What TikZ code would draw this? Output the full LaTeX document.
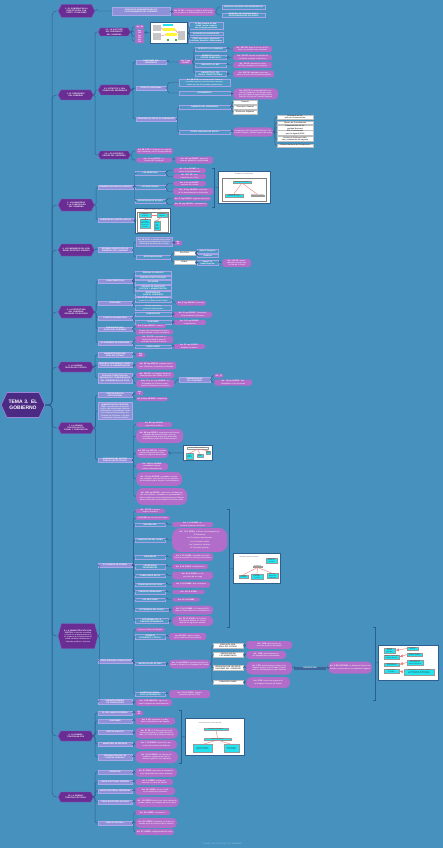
\documentclass[tikz,border=0pt]{standalone}
\usepackage{fontspec}
\setmainfont{Liberation Sans}
\usetikzlibrary{shapes.symbols,shapes.misc,calc}
\definecolor{bg}{HTML}{4691BE}
\definecolor{cenc}{HTML}{4B2A83}
\definecolor{cenb}{HTML}{9C86D8}
\definecolor{lonec}{HTML}{6A2D93}
\definecolor{loneb}{HTML}{8A5CC0}
\definecolor{lav}{HTML}{8E90D8}
\definecolor{lavb}{HTML}{A9A9EA}
\definecolor{outf}{HTML}{4F98C6}
\definecolor{outb}{HTML}{A7A3E6}
\definecolor{pk}{HTML}{B26CC9}
\definecolor{linec}{HTML}{2D5F8E}
\definecolor{imb}{HTML}{2F5F8F}
\definecolor{cy}{HTML}{22E4F0}
\definecolor{rd}{HTML}{F07C7C}
\definecolor{ftc}{HTML}{7FB6D8}
\newcommand\tn{\fontsize{1.9}{2.2}\selectfont}
\newcommand\tb{\bfseries\fontsize{1.9}{2.2}\selectfont}
\newcommand\tmi{\fontsize{1.35}{1.6}\selectfont}
\newcommand\cnx[2]{\draw[cn] (#1.east) -- ++(1.5,0) |- (#2.west);}
\tikzset{
 base/.style={inner xsep=1pt, inner ysep=0.5pt, align=center, text=white, font=\tn, anchor=west},
 cen/.style={base, anchor=center, shape=signal, signal to=west and east, signal pointer angle=130, fill=cenc, draw=cenb, line width=0.6pt, font=\bfseries\fontsize{5}{6}\selectfont, text width=30pt, minimum height=25pt, inner xsep=1pt},
 lone/.style={base, shape=signal, signal to=west and east, signal pointer angle=125, fill=lonec, draw=loneb, line width=0.3pt, font=\tb, text width=28pt, minimum height=10pt},
 ltwop/.style={base, shape=signal, signal to=west and east, signal pointer angle=125, fill=lonec, draw=loneb, line width=0.3pt, font=\tb, text width=26pt, minimum height=8pt},
 ltwo/.style={base, rectangle, fill=lav, draw=lavb, line width=0.25pt, font=\tb, minimum height=4pt, text width=32pt},
 outn/.style={base, rectangle, fill=outf, draw=outb, line width=0.3pt, font=\tb, minimum height=3.4pt},
 pkn/.style={base, rectangle, rounded corners=1.8pt, fill=pk, minimum height=4pt},
 tagn/.style={pkn, font=\tb, rounded corners=1.2pt},
 whn/.style={base, rectangle, fill=white, draw=black!25, line width=0.2pt, text=black!75, font=\tb, minimum height=3.4pt},
 imgb/.style={base, anchor=north west, rectangle, fill=white, draw=imb, line width=0.9pt, inner sep=0pt},
 cyb/.style={base, anchor=center, rectangle, fill=cy, draw=black!40, line width=0.15pt, text=black!80, font=\tmi, inner sep=0.4pt},
 ttl/.style={base, anchor=center, text=black!70, font=\tmi, inner sep=0.3pt},
 cn/.style={draw=linec, line width=0.45pt, rounded corners=1.5pt},
 rl/.style={draw=rd, line width=0.4pt},
}
\begin{document}
\begin{tikzpicture}[x=1pt,y=-1pt]
\fill[bg] (0,0) rectangle (443,848);
\useasboundingbox (0,0) rectangle (443,848);

% ---------- central and level one
\node[cen] (cen) at (23,405) {TEMA 3. EL GOBIERNO};
\node[lone, minimum height=13pt] (A1) at (58,11) {1. EL GOBIERNO EN LA CONSTITUCIÓN: CONCEPTO Y FUNCIONES};
\node[lone] (A2) at (58,95) {2. EL PRESIDENTE DEL GOBIERNO};
\node[lone, minimum height=12pt] (A3) at (58,205) {3. LOS MINISTROS Y LA COMPOSICIÓN DEL GOBIERNO};
\node[lone, minimum height=12pt] (A4) at (58,250) {4. LOS MIEMBROS DEL GOBIERNO: ESTATUTO JURÍDICO};
\node[lone, minimum height=12pt] (A5) at (58,312) {5. LA ESTRUCTURA DEL GOBIERNO: ÓRGANOS COLEGIADOS};
\node[lone] (A6) at (58,367) {6. LA ADMINISTRACIÓN DEL ESTADO};
\node[lone, minimum height=11pt] (A7) at (58,428) {7. LA ADMINISTRACIÓN INSTITUCIONAL Y CORPORATIVA};
\node[lone, signal pointer angle=150, text width=31pt, minimum height=25pt] (A8) at (58,636) {8. LA ADMINISTRACIÓN CONSULTIVA: \mdseries la función consultiva consiste en el asesoramiento a los órganos de la Administración activa mediante dictámenes o informes jurídicos o técnicos};
\node[lone] (A9) at (58,736) {9. LA ADMINISTRACIÓN MILITAR};
\node[lone] (A10) at (58,797) {10. LA ADMINISTRACIÓN ELECTORAL};
\foreach \n in {A1,A2,A3,A4,A5,A6,A7,A8,A9,A10}
  \draw[cn, rounded corners=4pt] (cen.east) -- ++(7,0) |- (\n.west);

% ---------- section 1
\node[ltwo, text width=56pt, minimum height=8pt] (B1) at (112,11) {PRINCIPIOS FUNDAMENTALES DE FUNCIONAMIENTO DEL GOBIERNO};
\node[pkn, text width=41pt, rounded corners=3pt, minimum height=8pt] (B1p) at (172,12) {\textbf{Art. 97 CE:} el Gobierno dirige la política interior y exterior, la Administración civil y militar};
\node[outn, text width=41pt] (B1a) at (222,7) {PRINCIPIO DE DIRECCIÓN PRESIDENCIAL};
\node[outn, text width=41pt] (B1b) at (222,15) {PRINCIPIO DE COLEGIALIDAD Y RESPONSABILIDAD SOLIDARIA};
\cnx{A1}{B1} \cnx{B1}{B1p} \cnx{B1p}{B1a} \cnx{B1p}{B1b}

% ---------- section 2
\node[ltwop] (C1) at (98,32) {2.1. LA ELECCIÓN DEL PRESIDENTE DEL GOBIERNO};
\node[ltwop, minimum height=10pt] (C2) at (98,90) {2.2. ESTATUTO Y FUNCIONES DEL PRESIDENTE};
\node[ltwop] (C3) at (98,155) {2.3. LOS VICEPRESIDENTES DEL GOBIERNO};
\cnx{A2}{C1} \cnx{A2}{C2} \cnx{A2}{C3}
\node[tagn, text width=7pt] (T1) at (135,27) {Art. 99};
\node[tagn, text width=7pt] (T2) at (135,32) {Art. 101};
\node[tagn, text width=7pt] (T3) at (135,36.5) {Art. 113};
\node[tagn, text width=7pt] (T4) at (135,41) {Art. 114};
\foreach \n in {T1,T2,T3,T4} \cnx{C1}{\n};
\node[imgb, minimum width=37pt, minimum height=21pt] (img1) at (150,22) {};
\fill[gray!45] (153,25) rectangle (161,31);
\fill[gray!45] (153,33) rectangle (161,40);
\fill[cy] (163,24.5) rectangle (173,26.5);
\fill[yellow!80] (163,28) rectangle (175,31);
\fill[yellow!80] (166,33) rectangle (177,36);
\fill[gray!45] (178,31) rectangle (185,40);
\draw[rl] (161,28) -- (163,29.5) (175,29.5) -- (178,33) (166,34.5) -- (161,36);
\fill[green!60!black] (168,40) circle (1.1pt) (176,40) circle (1.1pt);
\cnx{T2}{img1}
\node[outn, text width=32pt] (O1) at (189,26) {El Rey propone un candidato, previa consulta con los grupos políticos};
\node[outn, text width=32pt] (O2) at (189,33.5) {VOTACIÓN DE INVESTIDURA};
\node[outn, text width=32pt] (O3) at (189,40) {CESE: elecciones, pérdida de confianza, dimisión o fallecimiento};
\cnx{img1}{O1} \cnx{img1}{O2} \cnx{img1}{O3}

\node[ltwo, text width=28pt] (D1) at (136,62) {FUNCIONES DEL PRESIDENTE};
\node[ltwo, text width=28pt] (D2) at (136,88) {ESTATUTO PERSONAL};
\node[ltwo, text width=38pt] (D3) at (136,119) {ÓRGANOS DE APOYO AL PRESIDENTE};
\cnx{C2}{D1} \cnx{C2}{D2} \cnx{C2}{D3}
\node[tagn, text width=11pt] (T5) at (179,62) {Art. 2 Ley 50/1997};
\cnx{D1}{T5}
\node[outn, text width=29pt] (O4) at (195,49) {RESPECTO AL GOBIERNO};
\node[outn, text width=29pt] (O5) at (195,57) {RESPECTO A LAS CORTES GENERALES};
\node[outn, text width=29pt] (O6) at (195,65) {RESPECTO AL REY};
\node[outn, text width=29pt] (O7) at (195,73.5) {RESPECTO AL TRIBUNAL CONSTITUCIONAL};
\foreach \n in {O4,O5,O6,O7} \cnx{T5}{\n};
\node[pkn, text width=37pt, minimum height=6pt] (P1) at (233,49) {\textbf{Art. 98.2 CE:} dirige la acción del Gobierno y coordina a sus miembros};
\node[pkn, text width=37pt, minimum height=6pt] (P2) at (233,57.5) {\textbf{Art. 112 CE:} plantea la cuestión de confianza; propone la disolución};
\node[pkn, text width=37pt, minimum height=6pt] (P3) at (233,65) {\textbf{Art. 64 CE:} refrenda los actos del Rey y propone a los ministros};
\node[pkn, text width=39pt, minimum height=7pt] (P4) at (233,74) {\textbf{Art. 162 CE:} legitimado para interponer el recurso de inconstitucionalidad};
\cnx{O4}{P1} \cnx{O5}{P2} \cnx{O6}{P3} \cnx{O7}{P4}
\node[outn, text width=49pt, font=\tn] (O8) at (179,82.5) {\textbf{Art. 98.3 CE:} los miembros del Gobierno no podrán ejercer otras funciones representativas que las del mandato parlamentario};
\node[outn, text width=49pt] (O9) at (179,93) {AFORAMIENTO};
\cnx{D2}{O8} \cnx{D2}{O9}
\node[pkn, text width=43pt, rounded corners=4pt, minimum height=11pt] (P5) at (233,94) {\textbf{Art. 102 CE:} la responsabilidad criminal del Presidente y los demás miembros del Gobierno será exigible ante la Sala de lo Penal del Tribunal Supremo};
\cnx{O9}{P5}
\node[outn, text width=49pt] (O10) at (179,107) {GABINETE DEL PRESIDENTE};
\node[outn, text width=49pt] (O11) at (179,132) {OTROS ÓRGANOS DE APOYO};
\cnx{D3}{O10} \cnx{D3}{O11}
\node[whn, text width=22pt] (W1) at (233,102) {Director};
\node[whn, text width=22pt] (W2) at (233,107) {Secretario General};
\node[whn, text width=22pt] (W3) at (233,112) {Directores Adjuntos};
\cnx{O10}{W1} \cnx{O10}{W2} \cnx{O10}{W3}
\node[pkn, text width=38pt, rounded corners=3.5pt, minimum height=9pt] (P6) at (233,132) {Departamento de Seguridad Nacional, Oficina del Portavoz y demás órganos de apoyo};
\cnx{O11}{P6}
\node[whn, text width=34pt] (W4) at (277,117) {Secretaría de Estado de Comunicación};
\node[whn, text width=34pt] (W5) at (277,122.5) {Oficina de Coordinación};
\node[whn, text width=34pt] (W6) at (277,127.5) {Departamento de Seguridad Nacional};
\node[whn, text width=34pt] (W7) at (277,132.5) {Alto Comisionado para la Agenda 2030};
\node[whn, text width=34pt] (W8) at (277,139) {Unidad de Políticas Públicas y evaluación del impacto};
\node[whn, text width=34pt] (W9) at (277,145.5) {Oficina Nacional de Prospectiva};
\foreach \n in {W4,W5,W6,W7,W8,W9} \cnx{P6}{\n};
\node[pkn, text width=35pt, minimum height=6pt] (P7) at (136,151) {\textbf{Art. 98.1 CE:} el Gobierno se compone del Presidente y de los Vicepresidentes};
\node[pkn, text width=34pt, minimum height=5pt] (P8) at (136,160) {\textbf{Art. 3 Ley 50/1997:} suplencia del Presidente};
\node[pkn, text width=36pt, minimum height=7pt] (P9) at (175,160) {\textbf{Art. 13 Ley 50/1997:} casos de vacante, ausencia o enfermedad};
\cnx{C3}{P7} \cnx{C3}{P8} \cnx{P8}{P9}

% ---------- section 3
\node[ltwo, text width=33pt] (E1) at (98,187) {GOBIERNO EN SENTIDO ESTRICTO};
\node[ltwo, text width=33pt] (E2) at (98,220) {GOBIERNO EN SENTIDO AMPLIO};
\cnx{A3}{E1} \cnx{A3}{E2}
\node[outn, text width=28pt] (O12) at (135,173) {LOS MINISTROS};
\node[outn, text width=28pt] (O13) at (135,187) {LOS MINISTERIOS};
\node[outn, text width=28pt] (O14) at (135,201) {SECRETARIOS DE ESTADO};
\cnx{E1}{O12} \cnx{E1}{O13} \cnx{E1}{O14}
\node[pkn, text width=31pt] (P10) at (173,170.5) {\textbf{Art. 4 Ley 50/1997:} titulares de departamentos};
\node[pkn, text width=31pt] (P11) at (173,176.5) {\textbf{Art. 98.1 CE:} nombramiento por el Rey};
\node[pkn, text width=31pt, minimum height=5pt] (P12) at (173,183.5) {\textbf{Art. 4.1 Ley 50/1997:} ministros sin cartera};
\node[pkn, text width=38pt, minimum height=7pt] (P13) at (173,191.5) {\textbf{Art. 12 Ley 40/2015:} estructura de los departamentos ministeriales};
\node[pkn, text width=36pt] (P14) at (173,198.5) {\textbf{Art. 7 Ley 50/1997:} órganos superiores};
\node[pkn, text width=33pt] (P15) at (173,204.5) {\textbf{Art. 14 Ley 40/2015:} nombramiento};
\cnx{O12}{P10} \cnx{O12}{P11} \cnx{O13}{P12} \cnx{O13}{P13} \cnx{O14}{P14} \cnx{O14}{P15}
\coordinate (k1t) at (214,168); \coordinate (k1b) at (214,207); \coordinate (k1m) at (214,187);
\draw[cn, rounded corners=0pt] ($(k1t)+(-2,0)$) -- (k1t) -- (k1b) -- ++(-2,0);
\node[imgb, minimum width=52pt, minimum height=32pt] (img2) at (218,171) {};
\draw[cn, rounded corners=0pt] (k1m) -- (img2.west);
\node[ttl] (i2t) at (244,174.5) {El Gobierno en sentido estricto};
\draw[black!50, line width=0.3pt] (222,178) rectangle (266,201);
\node[cyb, text width=17pt] (i2a) at (242,182) {Presidente del Gobierno};
\node[cyb, text width=18pt] (i2b) at (234,195.5) {Vicepresidentes y Ministros con cartera};
\node[cyb, text width=13pt] (i2c) at (257.5,195.5) {Ministros sin cartera};
\draw[rl] (i2a.south) -- (i2b.north); \draw[rl] (i2a.south) -- (i2c.north);
\node[imgb, minimum width=35pt, minimum height=25pt] (img3) at (135,208) {};
\cnx{E2}{img3}
\node[ttl] (i3t) at (152.5,210.5) {Gobierno en sentido amplio};
\draw[black!50, line width=0.3pt] (137,212.5) rectangle (168,232);
\node[cyb, text width=11pt] (i3a) at (145,215) {Órganos de apoyo};
\node[cyb, text width=9pt] (i3b) at (162,215) {Consejo de Ministros};
\node[cyb, text width=10pt] (i3c) at (145,223.5) {Secretarios de Estado, Subsecretarios y Directores generales};
\node[cyb, text width=5pt] (i3d) at (157,225.5) {Comi\-siones dele\-gadas del Go\-bierno};
\draw[rl] (i3b.west) -- (i3a.east); \draw[rl] (i3b.south) -- (i3d.north); \draw[rl] (i3a.south) -- (i3c.north);

% ---------- section 4
\node[ltwo] (F1) at (98,250) {RÉGIMEN JURÍDICO DE LOS MIEMBROS DEL GOBIERNO};
\cnx{A4}{F1}
\node[outn, text width=34pt, fill=lav!80!outf, font=\tn, minimum height=9pt] (Q1) at (136,242) {\textbf{Art. 98.3 CE:} no podrán ejercer otras funciones representativas ni función pública que no derive de su cargo};
\node[tagn, text width=6pt] (T6) at (174,243) {Art. 14};
\node[outn, text width=32pt] (O15) at (136,257) {RESPONSABILIDAD};
\cnx{F1}{Q1} \cnx{Q1}{T6} \cnx{F1}{O15}
\node[whn, text width=19pt] (W10) at (174,253) {POLÍTICA};
\node[whn, text width=19pt] (W11) at (174,262) {PENAL};
\cnx{O15}{W10} \cnx{O15}{W11}
\node[outn, text width=19pt] (O16) at (197,251) {Ante el Congreso};
\node[outn, text width=19pt] (O17) at (197,255.5) {Solidaria};
\node[outn, text width=19pt] (O18) at (197,263) {Ante el Tribunal Supremo};
\cnx{W10}{O16} \cnx{W10}{O17} \cnx{W11}{O18}
\node[pkn, text width=27pt, rounded corners=3pt, minimum height=8pt] (P16) at (222,263) {\textbf{Art. 102 CE:} responsabilidad criminal ante la Sala de lo Penal};
\cnx{O18}{P16}

% ---------- section 5
\node[ltwo] (G1) at (98,281) {CARACTERÍSTICAS};
\node[ltwo] (G2) at (98,303) {FUNCIONES};
\node[ltwo] (G3) at (98,318) {CONSEJO DE MINISTROS};
\node[ltwo] (G4) at (98,329) {COMISIONES DELEGADAS DEL GOBIERNO};
\node[ltwo] (G5) at (98,343) {EL GOBIERNO EN FUNCIONES};
\foreach \n in {G1,G2,G3,G4,G5} \cnx{A5}{\n};
\node[outn, text width=34pt] (O19) at (135,273) {ÓRGANO COLEGIADO};
\node[outn, text width=34pt] (O20) at (135,277.5) {ÓRGANO CONSTITUCIONAL};
\node[outn, text width=34pt] (O21) at (135,282) {SOLIDARIO};
\node[outn, text width=34pt] (O22) at (135,288) {ÓRGANO DE DIRECCIÓN POLÍTICA Y ADMINISTRATIVA};
\node[outn, text width=34pt] (O23) at (135,293.5) {RESPONSABLE ANTE EL CONGRESO};
\foreach \n in {O19,O20,O21,O22,O23} \cnx{G1}{\n};
\node[outn, text width=34pt, font=\tn] (O24) at (135,299.5) {\textbf{Art. 97 CE:} dirige la política interior y exterior y la defensa del Estado};
\node[outn, text width=34pt, font=\tn] (O25) at (135,307.5) {Función ejecutiva y potestad reglamentaria};
\cnx{G2}{O24} \cnx{G2}{O25}
\node[pkn, text width=28pt, minimum height=5pt] (P17) at (176,303) {\textbf{Art. 5 Ley 50/1997:} funciones};
\cnx{O24}{P17}
\node[outn, text width=34pt] (O26) at (135,314) {COMPOSICIÓN};
\node[outn, text width=34pt] (O27) at (135,322) {FUNCIONES};
\cnx{G3}{O26} \cnx{G3}{O27}
\node[pkn, text width=37pt, minimum height=6pt] (P18) at (173,314.5) {\textbf{Art. 5 Ley 50/1997:} Presidente, Vicepresidentes y Ministros};
\node[pkn, text width=31pt] (P19) at (173,322.5) {\textbf{Art. 5.1 Ley 50/1997:} competencias};
\cnx{O26}{P18} \cnx{O27}{P19}
\node[pkn, text width=29pt] (P20) at (135,326) {\textbf{Art. 6 Ley 50/1997:} creación};
\node[pkn, text width=36pt, minimum height=5pt] (P21) at (135,332) {Órganos de coordinación de asuntos que afectan a varios ministerios};
\cnx{G4}{P20} \cnx{G4}{P21}
\node[pkn, text width=36pt, minimum height=6pt] (P22) at (135,339.5) {\textbf{Art. 101 CE:} continuará en funciones hasta la toma de posesión del nuevo Gobierno};
\node[outn, text width=34pt] (O28) at (135,346.5) {LIMITACIONES};
\cnx{G5}{P22} \cnx{G5}{O28}
\node[pkn, text width=30pt] (P23) at (173,346.5) {\textbf{Art. 21 Ley 50/1997:} despacho ordinario};
\cnx{O28}{P23}

% ---------- section 6
\node[ltwo] (H1) at (98,355) {ADMINISTRACIÓN GENERAL DEL ESTADO};
\node[ltwo] (H2) at (98,365) {ÓRGANOS SUPERIORES Y DIRECTIVOS DE LA ADMINISTRACIÓN};
\node[ltwo, minimum height=10pt] (H3) at (98,378) {ÓRGANOS TERRITORIALES: DELEGADOS Y SUBDELEGADOS DEL GOBIERNO EN LAS CCAA};
\foreach \n in {H1,H2,H3} \cnx{A6}{\n};
\node[tagn, text width=7pt] (T7) at (136,355) {Art. 103};
\cnx{H1}{T7}
\node[pkn, text width=38pt, rounded corners=3pt, minimum height=8pt] (P24) at (136,365.5) {\textbf{Art. 55 Ley 40/2015:} órganos superiores: Ministros y Secretarios de Estado};
\cnx{H2}{P24}
\node[pkn, text width=36pt, minimum height=6pt] (P25) at (136,375) {\textbf{Art. 154 CE:} un Delegado dirigirá la Administración del Estado en la CA};
\node[pkn, text width=36pt, rounded corners=3pt, minimum height=8pt] (P26) at (136,383.5) {\textbf{Arts. 72 y ss. Ley 40/2015:} los Delegados del Gobierno representan al Gobierno en el territorio};
\cnx{H3}{P25} \cnx{H3}{P26}
\node[ltwo, text width=29pt] (H4) at (179,379.5) {SUBDELEGADOS DEL GOBIERNO};
\cnx{P26}{H4}
\node[tagn, text width=7pt] (T8) at (214,375.5) {Art. 73};
\node[pkn, text width=36pt, minimum height=6pt] (P27) at (214,382.5) {\textbf{Art. 74 Ley 40/2015:} Subdelegados en las provincias};
\cnx{H4}{T8} \cnx{H4}{P27}

% ---------- section 7
\node[ltwo] (I1) at (98,395) {SECTOR PÚBLICO INSTITUCIONAL};
\node[ltwo, font=\tn, minimum height=17pt] (I2) at (98,411) {\textbf{ADMINISTRACIÓN CORPORATIVA:} corporaciones de derecho público que representan intereses profesionales o económicos, como los Colegios Profesionales y las Cámaras de Comercio, a las que se atribuyen funciones públicas};
\node[ltwo] (I3) at (98,460) {ENTIDADES DEL SECTOR PÚBLICO INSTITUCIONAL};
\foreach \n in {I1,I2,I3} \cnx{A7}{\n};
\node[tagn, text width=5pt] (T9) at (136,393) {Art. 2};
\node[pkn, text width=30pt] (P28) at (136,399) {\textbf{Art. 84 Ley 40/2015:} composición};
\cnx{I1}{T9} \cnx{I1}{P28}
\node[pkn, text width=34pt, minimum height=5pt] (P29) at (136,424.5) {\textbf{Art. 88 Ley 40/2015:} organismos públicos};
\node[pkn, text width=45pt, rounded corners=5pt, minimum height=14pt] (P30) at (136,436) {\textbf{Art. 98 Ley 40/2015:} organismos autónomos: entidades de derecho público con personalidad jurídica propia que desarrollan actividades propias de la Administración};
\node[pkn, text width=30pt, rounded corners=4pt, minimum height=10pt] (P31) at (136,453) {\textbf{Art. 103 Ley 40/2015:} entidades públicas empresariales financiadas con ingresos de mercado};
\node[pkn, text width=30pt, rounded corners=3pt, minimum height=7pt] (P32) at (136,466.5) {\textbf{Art. 109 Ley 40/2015:} autoridades administrativas independientes};
\node[pkn, text width=44pt, rounded corners=6pt, minimum height=14pt] (P33) at (136,479) {\textbf{Art. 111 Ley 40/2015:} sociedades mercantiles estatales: más del 50\% de su capital es de titularidad estatal, directa o indirectamente};
\node[pkn, text width=49pt, rounded corners=7pt, minimum height=17pt] (P34) at (136,496.5) {\textbf{Art. 118 Ley 40/2015:} consorcios y fundaciones del sector público: entidades con personalidad jurídica creadas por varias Administraciones Públicas para el desarrollo de actividades de interés común};
\foreach \n in {P29,P30,P31,P32,P33,P34} \cnx{I3}{\n};
\node[imgb, minimum width=29pt, minimum height=15pt] (img4) at (183,445) {};
\cnx{P31}{img4}
\node[ttl, draw=black!40, line width=0.2pt, text width=21pt] (i4a) at (197.5,448) {Sector público institucional};
\node[cyb, text width=6pt] (i4b) at (189.5,456) {Orga\-nismos públicos};
\node[cyb, text width=5pt] (i4c) at (200,455.5) {Enti\-dades};
\node[cyb, text width=4pt] (i4d) at (208,452.5) {Con\-sorcios};
\draw[rl] (i4a.south) -- (i4b.north); \draw[rl] (i4a.south) -- (i4c.north); \draw[rl] (i4a.south) -- (i4d.north);

% ---------- section 8
\node[ltwo] (J1) at (98,565) {EL CONSEJO DE ESTADO};
\node[ltwo] (J2) at (98,661) {OTROS ÓRGANOS CONSULTIVOS};
\node[ltwo] (J3) at (98,702) {COMISIÓN GENERAL DE CODIFICACIÓN};
\foreach \n in {J1,J2,J3} \cnx{A8}{\n};
\node[pkn, text width=28pt] (P35) at (135,511) {\textbf{Art. 107 CE:} supremo órgano consultivo};
\node[pkn, text width=33pt] (P36) at (135,518) {\textbf{LO 3/1980}, del Consejo de Estado};
\node[outn, text width=28pt] (O29) at (135,524.5) {NATURALEZA};
\node[outn, text width=28pt] (O30) at (135,540) {COMPOSICIÓN DEL PLENO};
\node[outn, text width=28pt] (O31) at (135,557) {PRESIDENTE};
\node[outn, text width=28pt] (O32) at (135,566.5) {CONSEJEROS PERMANENTES};
\node[outn, text width=28pt] (O33) at (135,575.5) {CONSEJEROS NATOS};
\node[outn, text width=28pt] (O34) at (135,584.5) {CONSEJEROS ELECTIVOS};
\node[outn, text width=28pt] (O35) at (135,592) {COMISIÓN PERMANENTE};
\node[outn, text width=28pt] (O36) at (135,599.5) {LAS SECCIONES};
\node[outn, text width=31pt] (O37) at (135,609.5) {DICTÁMENES DEL PLENO};
\node[outn, text width=31pt] (O38) at (135,620.5) {DICTÁMENES DE LA COMISIÓN PERMANENTE};
\foreach \n in {P35,P36,O29,O30,O31,O32,O33,O34,O35,O36,O37,O38} \cnx{J1}{\n};
\node[pkn, text width=39pt, minimum height=5pt] (P37) at (172,524.5) {\textbf{Art. 1 LO 3/1980:} autonomía orgánica y funcional};
\node[pkn, text width=53pt, rounded corners=8pt, minimum height=24pt] (P38) at (172,540) {\textbf{Art. 7 LO 3/1980:} el Pleno está integrado por:\\[1pt] El Presidente\\[1pt] Los Consejeros permanentes\\[1pt] Los Consejeros natos\\[1pt] Los Consejeros electivos\\[1pt] El Secretario general};
\node[pkn, text width=39pt, rounded corners=3pt, minimum height=8pt] (P39) at (172,557) {\textbf{Art. 6 LO 3/1980:} nombrado por Real Decreto acordado en Consejo de Ministros};
\node[pkn, text width=34pt, minimum height=5pt] (P40) at (172,566.5) {\textbf{Art. 8 LO 3/1980:} nombramiento};
\node[pkn, text width=39pt, rounded corners=3pt, minimum height=8pt] (P41) at (172,575.5) {\textbf{Art. 8 LO 3/1980:} lo son por razón de su cargo};
\node[pkn, text width=36pt, minimum height=6pt] (P42) at (172,584.5) {\textbf{Art. 9 LO 3/1980:} diez consejeros};
\node[pkn, text width=31pt] (P43) at (172,592) {\textbf{Art. 19 LO 3/1980}};
\node[pkn, text width=26pt] (P44) at (172,599.5) {\textbf{Art. 15 LO 3/1980}};
\node[pkn, text width=39pt, rounded corners=4pt, minimum height=9pt] (P45) at (172,610) {\textbf{Art. 21 LO 3/1980:} el Consejo de Estado en Pleno deberá ser consultado en:};
\node[pkn, text width=39pt, rounded corners=4.5pt, minimum height=10pt] (P46) at (172,621) {\textbf{Art. 22 LO 3/1980:} la Comisión Permanente deberá ser consultada en los siguientes asuntos};
\cnx{O29}{P37} \cnx{O30}{P38} \cnx{O31}{P39} \cnx{O32}{P40} \cnx{O33}{P41}
\cnx{O34}{P42} \cnx{O35}{P43} \cnx{O36}{P44} \cnx{O37}{P45} \cnx{O38}{P46}
\coordinate (k2t) at (229,509); \coordinate (k2b) at (229,627); \coordinate (k2m) at (229,568);
\draw[cn, rounded corners=0pt] ($(k2t)+(-2,0)$) -- (k2t) -- (k2b) -- ++(-2,0);
\node[imgb, minimum width=47pt, minimum height=30pt] (img5) at (233,553) {};
\draw[cn, rounded corners=0pt] (k2m) -- (img5.west);
\node[ttl] (i5t) at (249,557) {Principales órganos consultivos};
\node[cyb, text width=11pt] (i5e) at (271.5,560.5) {Consejo de Estado (art. 107 CE)};
\node[cyb, text width=8pt] (i5a) at (257.5,566.5) {Consultivos};
\node[cyb, text width=8pt] (i5b) at (243.5,576.5) {Consejo de Estado};
\node[cyb, text width=11pt] (i5c) at (257,576.5) {Consejo Económico y Social};
\node[cyb, text width=10pt] (i5d) at (272.5,576) {Comisión General de Codificación};
\draw[rl] (i5a.south) -- (i5b.north); \draw[rl] (i5a.south) -- (i5c.north); \draw[rl] (i5a.south) -- (i5d.north);

\node[pkn, text width=28pt] (P47) at (135,629.5) {Servicio Jurídico del Estado};
\node[outn, text width=28pt] (O39) at (135,636.5) {CONSEJO ECONÓMICO Y SOCIAL};
\node[outn, text width=28pt] (O40) at (135,663.5) {ABOGACÍA DEL ESTADO};
\node[outn, text width=28pt] (O41) at (135,694) {CONSEJOS CONSULTIVOS AUTONÓMICOS};
\foreach \n in {P47,O39,O40,O41} \cnx{J2}{\n};
\node[pkn, text width=35pt, minimum height=7pt] (P48) at (169,636.5) {\textbf{Ley 21/1991:} órgano consultivo en materia socioeconómica};
\node[pkn, text width=39pt, rounded corners=4pt, minimum height=9pt] (P49) at (169,664) {\textbf{Art. 1 Ley 52/1997:} asistencia jurídica al Estado a través de los Abogados del Estado};
\node[pkn, text width=39pt, rounded corners=3pt, minimum height=8pt] (P55) at (169,694) {\textbf{Art. 24 LO 3/1980:} órganos consultivos de las CCAA};
\cnx{O39}{P48} \cnx{O40}{P49} \cnx{O41}{P55}
\node[whn, text width=28pt] (W12) at (213,645.5) {ABOGACÍA GENERAL DEL ESTADO};
\node[whn, text width=28pt] (W13) at (213,654.5) {ABOGACÍAS EN LOS MINISTERIOS};
\node[whn, text width=28pt] (W14) at (213,668) {ABOGACÍAS EN LAS DELEGACIONES DEL GOBIERNO};
\node[whn, text width=28pt] (W15) at (213,682) {SUBDIRECCIONES};
\foreach \n in {W12,W13,W14,W15} \cnx{P49}{\n};
\node[pkn, text width=44pt, rounded corners=3.5pt, minimum height=8pt] (P50) at (246,645) {\textbf{Art. 2 RD:} dirección de los servicios jurídicos del Estado};
\node[pkn, text width=38pt, rounded corners=3.5pt, minimum height=8pt] (P51) at (246,655) {\textbf{Art. 3 RD:} asesoramiento en los departamentos ministeriales};
\node[pkn, text width=44pt, rounded corners=5pt, minimum height=13pt] (P52) at (246,668) {\textbf{Art. 4 RD:} asesoramiento jurídico a los órganos periféricos del Estado, Delegaciones y Subdelegaciones del Gobierno};
\node[pkn, text width=42pt, rounded corners=5pt, minimum height=11pt] (P53) at (246,682.5) {\textbf{Art. 5 RD:} estructura orgánica de la Abogacía General del Estado};
\cnx{W12}{P50} \cnx{W13}{P51} \cnx{W14}{P52} \cnx{W15}{P53}
\node[base, rectangle, fill=linec!85!lav, text width=30pt, minimum height=3pt, font=\tb] (BR) at (294,668) {ESTRUCTURA};
\cnx{P52}{BR}
\node[pkn, text width=42pt, rounded corners=5pt, minimum height=12pt] (P54) at (328,667.5) {\textbf{Art. 6 RD 1057/2024:} la Abogacía General del Estado se estructura en los siguientes órganos};
\cnx{BR}{P54}
\coordinate (k3t) at (375,627); \coordinate (k3b) at (375,700); \coordinate (k3m) at (375,662.5);
\draw[cn, rounded corners=0pt] ($(k3t)+(-2,0)$) -- (k3t) -- (k3b) -- ++(-2,0);
\node[imgb, minimum width=60pt, minimum height=35pt] (img6) at (378,645) {};
\draw[cn, rounded corners=0pt] (k3m) -- (img6.west);
\node[cyb, text width=10pt] (i6a) at (389.5,650.5) {Abogado General del Estado};
\node[cyb, text width=14pt] (i6b) at (391.5,657) {Gabinete Técnico del Abogado General};
\node[cyb, text width=14pt] (i6c) at (391.5,664.5) {Departamento de lo Contencioso};
\node[cyb, text width=14pt] (i6d) at (391.5,671) {Departamento Consultivo};
\node[cyb, text width=10pt] (i6e) at (412.5,648.5) {Secretaría General};
\node[cyb, text width=14pt] (i6f) at (414.5,654.5) {Subdirección de los Servicios Jurídicos};
\node[cyb, text width=15pt] (i6g) at (415,662.5) {Departamento de Constitucional y Derechos Humanos};
\node[cyb, text width=30pt] (i6h) at (419,672) {Departamento de Auditoría, Calidad y Coordinación de la asistencia jurídica a entidades del sector público};
\draw[rl, -latex] (i6e.west) -- (i6a.east); \draw[rl, -latex] (i6f.west) -- (i6b.east);
\draw[rl, -latex] (i6g.west) -- (i6c.east); \draw[rl, -latex] (i6h.west) -- (i6d.east);

\node[pkn, text width=35pt, rounded corners=3pt, minimum height=7pt] (P56) at (135,702.5) {\textbf{Art. 1 RD 845/2015:} órgano superior colegiado de asesoramiento};
\cnx{J3}{P56}

% ---------- section 9
\node[ltwo] (K1) at (98,713) {EL REY, MANDO SUPREMO};
\node[ltwo] (K2) at (98,721) {FUNCIONES};
\node[ltwo] (K3) at (98,732) {SECTOR PÚBLICO};
\node[ltwo] (K4) at (98,744) {MINISTERIO DE DEFENSA};
\node[ltwo, minimum height=6pt] (K5) at (98,757) {ORGANIZACIÓN DE LAS FUERZAS ARMADAS};
\foreach \n in {K1,K2,K3,K4,K5} \cnx{A9}{\n};
\node[tagn, text width=6pt] (T10) at (135,713) {Art. 62};
\node[pkn, text width=38pt, rounded corners=3pt, minimum height=7pt] (P57) at (135,721) {\textbf{Art. 8 CE:} garantizar la soberanía e independencia de España};
\node[pkn, text width=41pt, rounded corners=5pt, minimum height=11pt] (P58) at (135,733) {\textbf{Art. 97 CE:} el Gobierno dirige la Administración militar y la defensa del Estado; LO 5/2005 de la Defensa Nacional};
\node[pkn, text width=40pt, rounded corners=4pt, minimum height=9pt] (P59) at (135,744.5) {\textbf{Art. 7 LO 5/2005:} desarrollo y ejecución de la política de defensa};
\node[pkn, text width=41pt, rounded corners=5.5pt, minimum height=12pt] (P60) at (135,757) {\textbf{Art. 10 LO 5/2005:} las Fuerzas Armadas se organizan en una estructura orgánica y otra operativa};
\cnx{K1}{T10} \cnx{K2}{P57} \cnx{K3}{P58} \cnx{K4}{P59} \cnx{K5}{P60}
\coordinate (k4t) at (181,710); \coordinate (k4b) at (181,763); \coordinate (k4m) at (181,736.5);
\draw[cn, rounded corners=0pt] ($(k4t)+(-2,0)$) -- (k4t) -- (k4b) -- ++(-2,0);
\node[imgb, minimum width=59pt, minimum height=37pt] (img7) at (185,718) {};
\draw[cn, rounded corners=0pt] (k4m) -- (img7.west);
\node[ttl] (i7t) at (210,723) {La estructura de las Fuerzas Armadas};
\node[cyb, text width=24pt] (i7a) at (216,729) {Presidente del Gobierno};
\node[cyb, text width=27pt] (i7b) at (217.5,739) {Ministro de Defensa};
\node[cyb, text width=19pt, minimum height=8pt] (i7c) at (202.5,748.5) {Estructura orgánica (Ejércitos y Armada)};
\node[cyb, text width=15pt, minimum height=8pt] (i7d) at (231.5,748.5) {Estructura operativa (JEMAD)};
\draw[rl] (i7a.south) -- (i7b.north); \draw[rl] (i7b.south) -- (i7c.north); \draw[rl] (i7b.south) -- (i7d.north);

% ---------- section 10
\node[ltwo] (L1) at (98,772) {DEFINICIÓN};
\node[ltwo] (L2) at (98,782) {JUNTA ELECTORAL CENTRAL};
\node[ltwo] (L3) at (98,791) {JUNTA ELECTORAL PROVINCIAL};
\node[ltwo] (L4) at (98,802) {JUNTA ELECTORAL DE ZONA};
\node[ltwo] (L5) at (98,823) {MESA ELECTORAL};
\foreach \n in {L1,L2,L3,L4,L5} \cnx{A10}{\n};
\node[pkn, text width=40pt, rounded corners=4pt, minimum height=9pt] (P61) at (135,772.5) {\textbf{Art. 8 LOREG:} garantizar la transparencia y objetividad del proceso electoral};
\node[pkn, text width=36pt, rounded corners=3pt, minimum height=6pt] (P62) at (135,782) {\textbf{Art. 9 LOREG:} órgano permanente con sede en Madrid};
\node[pkn, text width=38pt, rounded corners=3.5pt, minimum height=8pt] (P63) at (135,791) {\textbf{Art. 10 LOREG:} tiene su sede en la capital de la provincia};
\node[pkn, text width=42pt, rounded corners=5pt, minimum height=10pt] (P64) at (135,802) {\textbf{Art. 11 LOREG:} sede en las villas cabeza de partido judicial; se compone de tres vocales};
\node[pkn, text width=33pt, minimum height=5pt] (P65) at (135,812.5) {\textbf{Art. 25 LOREG:} composición};
\node[pkn, text width=40pt, rounded corners=5pt, minimum height=10pt] (P66) at (135,823) {\textbf{Art. 26 LOREG:} Presidente y Vocales se sortean entre los electores de la sección};
\node[pkn, text width=37pt, rounded corners=3pt, minimum height=6pt] (P67) at (135,832) {\textbf{Art. 27 LOREG:} obligatoriedad del cargo};
\cnx{L1}{P61} \cnx{L2}{P62} \cnx{L3}{P63} \cnx{L4}{P64}
\cnx{L5}{P65} \cnx{L5}{P66} \cnx{L5}{P67}

\node[base, anchor=center, text=ftc, font=\fontsize{2.6}{3}\selectfont] (ft) at (222,844) {Creado con GoConqr por \textbf{usuario}};
\end{tikzpicture}
\end{document}
